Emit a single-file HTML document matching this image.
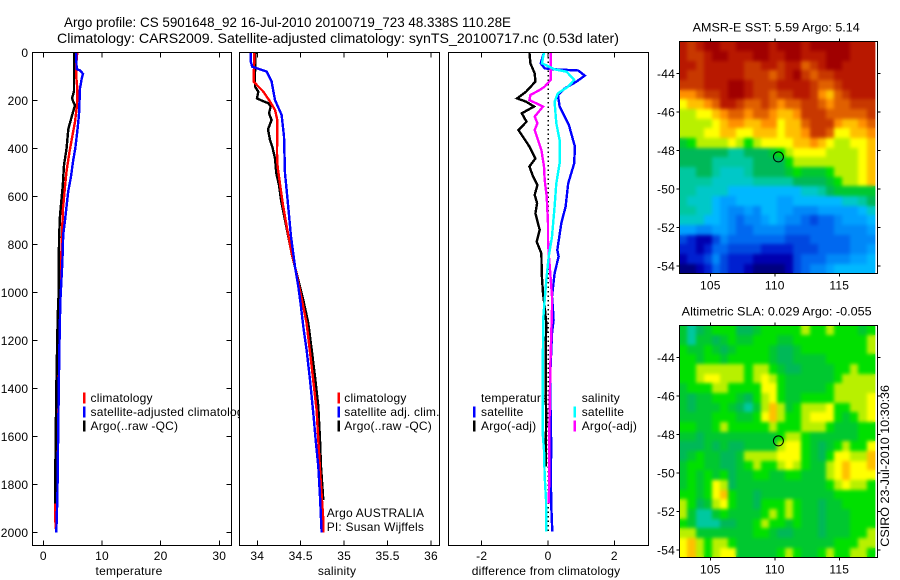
<!DOCTYPE html>
<html>
<head>
<meta charset="utf-8">
<style>
html,body{margin:0;padding:0;background:#fff;}
svg{display:block;}
text{font-family:"Liberation Sans",sans-serif;font-size:12px;fill:#000;letter-spacing:0.2px;}
</style>
</head>
<body>
<svg id="fig" width="900" height="580" viewBox="0 0 900 580" xmlns="http://www.w3.org/2000/svg">
<defs>
<filter id="soften" x="-5%" y="-5%" width="110%" height="110%" color-interpolation-filters="sRGB">
<feGaussianBlur in="SourceGraphic" stdDeviation="1.8" result="b"/>
<feMerge><feMergeNode in="SourceGraphic"/><feMergeNode in="b"/></feMerge>
</filter>
<clipPath id="clip-m1"><rect x="680" y="42" width="196" height="231"/></clipPath>
<clipPath id="clip-m2"><rect x="680" y="326" width="196" height="231"/></clipPath>
</defs>
<rect x="0" y="0" width="900" height="580" fill="#fff"/>
<text x="64" y="27" style="font-size:14px;letter-spacing:0" textLength="447" lengthAdjust="spacingAndGlyphs">Argo profile: CS 5901648_92 16-Jul-2010 20100719_723 48.338S 110.28E</text>
<text x="57" y="43" style="font-size:14px;letter-spacing:0" textLength="562" lengthAdjust="spacingAndGlyphs">Climatology: CARS2009. Satellite-adjusted climatology: synTS_20100717.nc (0.53d later)</text>
<g id="p1"></g>
<g id="p2"></g>
<g id="p3"></g>
<g id="m1"></g>
<g id="m2"></g>
<text x="692.7" y="31.5" style="letter-spacing:0" textLength="167" lengthAdjust="spacingAndGlyphs">AMSR-E SST: 5.59 Argo: 5.14</text>
<text x="681.7" y="315.5" style="letter-spacing:0" textLength="190" lengthAdjust="spacingAndGlyphs">Altimetric SLA: 0.029 Argo: -0.055</text>
<text transform="translate(889,546.7) rotate(-90)" style="letter-spacing:0" textLength="161.7" lengthAdjust="spacingAndGlyphs">CSIRO 23-Jul-2010 10:30:36</text>
</svg>
<script>
// ---- Profile data: [depth, value] ----
const depthTicks = [0,200,400,600,800,1000,1200,1400,1600,1800,2000];
const tempTicks = [0,10,20,30];
const salTicks = [34,34.5,35,35.5,36];
const diffTicks = [-2,0,2];
const lonTicks = [105,110,115];
const latTicks = [-44,-46,-48,-50,-52,-54];

const tempArgo = [[0,5.23],[160,5.23],[175,5.1],[190,4.89],[205,5.1],[220,5.4],[270,4.83],[320,4.26],[400,3.98],[470,3.53],[560,3.3],[620,3.07],[680,2.84],[780,2.67],[1000,2.62],[1100,2.45],[1400,2.22],[1750,2.05],[1880,2.05]];
const tempClim = [[0,5.8],[50,5.6],[100,5.6],[150,5.8],[220,5.75],[290,5.4],[350,4.95],[420,4.44],[500,3.93],[560,3.7],[650,3.36],[750,3.2],[920,2.96],[1000,2.73],[1400,2.4],[1880,2.05],[1950,2.05],[2000,2.2]];
const tempSat = [[0,5.57],[70,5.7],[75,6.26],[90,6.76],[110,6.54],[150,6.26],[250,6.1],[290,5.96],[340,5.75],[400,5.46],[450,5.1],[520,4.7],[580,4.25],[640,3.98],[700,3.7],[760,3.4],[870,3.25],[960,3.07],[1040,2.9],[1250,2.73],[1550,2.56],[1850,2.4],[2000,2.22]];

const salArgo = [[0,33.981],[88,33.974],[143,33.974],[164,34.012],[192,33.997],[201,34.05],[212,34.127],[226,34.154],[254,34.135],[282,34.165],[321,34.123],[365,34.146],[400,34.177],[442,34.204],[504,34.219],[553,34.25],[615,34.273],[699,34.319],[768,34.357],[837,34.395],[921,34.453],[990,34.5],[1032,34.53],[1129,34.587],[1240,34.626],[1351,34.664],[1476,34.702],[1615,34.722],[1726,34.733],[1865,34.76]];
const salClim = [[0,33.966],[122,33.958],[136,33.993],[164,34.07],[205,34.146],[240,34.204],[282,34.23],[420,34.227],[476,34.234],[546,34.26],[629,34.292],[726,34.338],[824,34.388],[893,34.434],[1060,34.53],[1129,34.568],[1310,34.626],[1490,34.683],[1740,34.722],[1948,34.76],[2000,34.76]];
const salSat = [[0,33.924],[39,33.924],[60,33.943],[71,34.03],[80,34.108],[122,34.165],[199,34.204],[261,34.28],[351,34.307],[504,34.319],[615,34.349],[768,34.388],[893,34.434],[976,34.472],[1050,34.5],[1143,34.53],[1240,34.568],[1365,34.607],[1504,34.645],[1629,34.676],[1726,34.702],[1851,34.722],[2000,34.74]];

const diffTempSat = [[0,-0.12],[46,-0.22],[67,-0.1],[71,0.2],[76,0.91],[97,1.11],[122,0.86],[150,0.51],[178,0.3],[226,0.35],[303,0.63],[393,0.81],[463,0.79],[546,0.61],[643,0.53],[712,0.4],[824,0.28],[851,0.32],[921,0.2],[1018,0.12],[1074,0.15],[1115,0.17],[1171,0.12],[1240,0.1],[1365,0.06],[1657,0.1],[1740,0.08],[1893,0.1],[1997,0.13]];
const diffTempArgo = [[0,-0.56],[46,-0.53],[88,-0.4],[122,-0.38],[164,-0.66],[192,-0.93],[206,-0.66],[226,-0.42],[254,-0.79],[289,-0.65],[324,-0.89],[351,-0.76],[393,-0.56],[442,-0.38],[476,-0.56],[518,-0.45],[553,-0.32],[594,-0.4],[629,-0.33],[671,-0.38],[740,-0.25],[789,-0.34],[838,-0.2],[921,-0.19],[1004,-0.15],[1060,-0.1],[1088,-0.08],[1129,-0.05],[1226,-0.07],[1435,-0.07],[1518,-0.05],[1629,-0.07],[1726,-0.06]];
const diffSalSat = [[0,-0.12],[46,-0.18],[71,0.2],[81,0.56],[115,0.79],[143,0.61],[171,0.3],[206,0.2],[296,0.25],[365,0.35],[463,0.35],[546,0.25],[643,0.2],[768,0.12],[851,0.02],[949,-0.05],[1067,-0.12],[1101,-0.14],[1310,-0.16],[1588,-0.16],[1657,-0.12],[1768,-0.1],[1865,-0.06],[1997,-0.05]];
const diffSalArgo = [[0,0.08],[115,0.08],[143,-0.1],[157,-0.25],[178,-0.53],[199,-0.56],[226,-0.15],[268,-0.4],[296,-0.32],[324,-0.4],[407,-0.2],[476,-0.12],[532,-0.1],[601,-0.04],[712,0],[782,0],[838,0.02],[921,0.07],[1018,0.12],[1067,0.12],[1171,0.1],[1310,0.07],[1588,0.04],[1768,0.04],[1879,0.02]];
const zeroLine = [[0,0],[2000,0]];

// ---- Map data: colour level 0..20, rows north to south ----
const sstGrid = [
[19,18,19,20,20,19,19,20,20,20,20,19,20,20,20,19,20,20,20,20,20,19,19,19],
[19,18,18,19,20,20,19,19,19,20,20,19,19,20,20,19,19,19,20,20,20,19,19,19],
[19,19,18,19,19,19,19,19,18,18,19,19,18,19,19,17,18,19,20,20,19,19,19,19],
[19,18,18,19,19,19,19,19,18,18,18,17,18,19,20,18,17,18,18,19,19,19,19,19],
[18,18,18,19,19,19,20,20,19,18,18,18,19,19,19,19,18,17,17,18,19,19,19,19],
[16,16,17,18,18,19,20,20,19,18,18,17,18,18,19,19,18,16,15,17,18,19,19,19],
[14,15,15,16,17,19,19,18,17,17,18,17,16,17,17,18,18,17,16,17,17,18,18,18],
[13,13,14,14,15,16,17,17,16,17,17,16,15,15,16,18,18,18,17,17,17,17,17,18],
[13,13,13,13,14,15,16,16,15,15,16,16,14,15,15,17,18,18,18,16,15,15,16,17],
[13,13,13,14,14,15,15,14,14,15,15,15,14,15,15,16,18,18,17,14,14,15,15,16],
[11,12,13,13,13,13,14,13,12,13,14,14,14,14,15,15,16,15,14,13,13,14,14,15],
[10,10,10,10,10,10,9,9,10,10,10,11,12,13,14,14,14,14,13,13,13,13,14,15],
[10,10,10,10,9,9,9,9,9,10,10,10,10,12,13,13,13,13,13,13,13,13,14,15],
[9,9,10,10,9,8,8,8,9,10,10,10,10,11,12,11,11,11,12,13,13,13,14,15],
[9,9,9,9,8,8,8,8,8,9,9,9,9,9,10,10,10,10,11,12,13,13,14,15],
[9,9,8,8,8,8,7,7,7,7,7,7,7,7,7,8,8,9,10,11,11,11,11,11],
[9,8,8,8,7,6,6,7,7,7,7,7,6,6,7,7,7,7,7,7,8,8,9,10],
[9,9,8,8,7,6,5,5,6,5,7,7,6,6,5,5,5,6,6,6,6,6,7,8],
[8,8,8,7,7,6,5,4,5,5,6,7,6,5,5,4,3,4,4,5,6,6,6,7],
[6,6,5,5,6,6,5,4,4,5,5,5,5,4,4,4,4,4,4,5,5,5,5,6],
[3,2,1,1,3,5,4,4,4,4,4,4,4,3,3,3,4,4,4,4,4,5,5,5],
[2,2,1,2,4,4,3,3,3,3,2,2,2,2,3,3,3,4,4,4,4,5,5,6],
[1,2,2,3,5,3,2,2,2,1,1,1,1,1,3,4,4,4,5,5,5,6,6,7],
[0,0,1,2,4,3,2,2,1,0,0,0,0,1,3,4,5,5,6,7,7,7,7,7]
];
const slaGrid = [
[11,9,10,11,12,12,12,10,10,11,12,12,12,12,12,13,12,12,13,12,12,12,11,12],
[11,9,11,11,10,11,12,11,11,12,12,12,11,11,12,12,12,12,12,12,12,12,12,13],
[12,11,11,12,11,10,11,12,12,12,12,11,10,10,11,12,12,12,12,12,12,12,12,13],
[12,12,11,12,12,11,12,12,12,12,12,11,10,10,11,11,11,11,12,12,12,12,12,12],
[12,12,13,13,13,13,13,13,12,13,13,12,11,10,10,11,11,11,11,12,12,13,12,12],
[12,12,13,14,14,13,13,13,12,13,14,13,12,11,11,11,11,11,11,12,13,13,13,13],
[11,12,12,12,13,13,12,12,12,12,14,14,12,11,11,11,11,11,12,13,13,13,13,13],
[11,10,11,11,12,12,12,11,10,12,13,14,12,11,11,12,12,12,12,13,13,13,13,14],
[11,10,11,11,11,12,11,10,9,11,13,15,13,11,12,13,13,13,14,12,12,13,13,14],
[11,11,11,11,12,12,12,11,11,12,14,15,13,12,12,13,14,14,14,12,11,12,13,14],
[12,12,11,11,12,13,12,12,12,12,12,13,12,12,12,13,13,13,12,11,11,11,12,12],
[11,11,10,11,11,11,11,11,11,11,11,11,12,13,13,12,11,11,11,11,11,11,12,12],
[10,10,10,11,10,11,10,10,11,11,11,11,13,14,14,12,11,10,11,12,13,12,12,14],
[10,11,12,11,11,10,10,11,13,13,13,13,14,14,14,12,11,10,12,14,14,13,13,15],
[11,12,12,11,11,10,10,11,12,13,12,12,13,14,13,12,11,11,13,14,15,14,14,15],
[11,12,11,12,11,12,10,11,11,12,12,11,11,12,12,11,11,11,13,14,15,14,14,14],
[11,12,11,12,14,13,10,11,11,11,11,11,11,11,11,11,11,11,12,13,14,13,13,12],
[12,12,11,12,14,15,12,11,11,10,11,11,11,11,11,11,11,11,11,12,12,12,12,12],
[13,12,10,11,13,14,12,11,11,10,12,12,12,13,12,11,11,10,11,11,12,12,12,12],
[13,11,9,9,11,12,11,11,11,11,12,13,12,13,12,11,11,10,11,11,11,12,12,12],
[12,11,9,9,9,10,10,11,11,12,13,12,12,11,12,11,11,10,11,11,11,12,12,12],
[13,13,11,11,11,11,11,11,11,12,12,11,10,10,11,11,11,10,11,11,11,12,12,13],
[14,15,13,12,13,13,12,11,11,11,11,11,11,11,11,11,11,11,11,12,12,12,13,13],
[14,15,13,12,13,14,14,11,11,11,11,11,12,13,12,11,11,12,13,12,12,13,13,12]
];
const profileLon = 110.28;
const profileLat = -48.338;
const colourLevels = ["#000080","#0000b0","#0020d0","#0048e0","#0068f0","#0088f8","#00a0ff","#00b8ff","#00c8c8","#00c8a0","#00b858","#00c830","#00e000","#b8f000","#ffff00","#ffc000","#ff9000","#e06000","#c83800","#b81800","#a00000"];

const NS = "http://www.w3.org/2000/svg";
function mk(parent, tag, attrs, txt) {
  const e = document.createElementNS(NS, tag);
  for (const k in attrs) e.setAttribute(k, attrs[k]);
  if (txt !== undefined) e.textContent = txt;
  parent.appendChild(e);
  return e;
}
function linear(d0, d1, r0, r1) { return v => r0 + (v - d0) * (r1 - r0) / (d1 - d0); }

const yDepth = linear(0, 2000, 52.3, 532.3);
const TOP = 52.3, BOTTOM = 545.3;

function drawLine(g, data, xs, colour, name, dash) {
  const pts = data.map(d => xs(d[1]).toFixed(1) + "," + yDepth(d[0]).toFixed(1)).join(" ");
  const a = { points: pts, fill: "none", stroke: colour, "stroke-width": dash ? 1.5 : 2.4, "shape-rendering": "crispEdges", "stroke-linejoin": "miter" };
  if (dash) a["stroke-dasharray"] = "1.5 3";
  const el = mk(g, "polyline", a);
  
  
}
function drawBox(g, l, r, t, b, name) {
  const el = mk(g, "rect", { x: l, y: t, width: r - l, height: b - t, fill: "none", stroke: "#000", "stroke-width": 1, "shape-rendering": "crispEdges" });
  
  
}
function tick(g, x1, y1, x2, y2) {
  const el = mk(g, "line", { x1: x1, y1: y1, x2: x2, y2: y2, stroke: "#000", "stroke-width": 1, "shape-rendering": "crispEdges" });
  
  
}
function label(g, x, y, s, anchor, name) {
  const el = mk(g, "text", { x: x, y: y, "text-anchor": anchor || "start" }, s);
  
  
  return el;
}
function marker(g, x, row, colour) {
  const y = 392.7 + row * 14;
  const el = mk(g, "rect", { x: x, y: y, width: 2.4, height: 11, fill: colour, "shape-rendering": "crispEdges" });
  
  
}
function panel(id, l, r, xs, ticks, fmt, xlabel, xlabelX, yTicks) {
  const g = document.getElementById(id);
  const bg = mk(g, "rect", { x: l, y: TOP, width: r - l, height: BOTTOM - TOP, fill: "#fff" });
  
  
  ticks.forEach(t => {
    const x = xs(t);
    tick(g, x, BOTTOM, x, BOTTOM - 5);
    tick(g, x, TOP, x, TOP + 5);
    label(g, x, 560, fmt(t), "middle", "x-tick-label");
  });
  if (yTicks) {
    depthTicks.forEach(d => {
      const y = yDepth(d);
      tick(g, l, y, l + 5, y);
      tick(g, r, y, r - 5, y);
      label(g, l - 4, y + 4.5, String(d), "end", "y-tick-label");
    });
  }
  label(g, xlabelX, 575, xlabel, "middle", "x-axis-title");
  return g;
}

// Temperature
const xT = linear(0, 30, 43.3, 219.3);
const g1 = panel("p1", 32.3, 231.3, xT, tempTicks, String, "temperature", 129, true);
drawLine(g1, tempClim, xT, "#f00", "temperature-climatology-line");
drawLine(g1, tempArgo, xT, "#000", "temperature-argo-line");
drawLine(g1, tempSat, xT, "#00f", "temperature-satellite-line");
marker(g1, 83, 0, "#f00"); marker(g1, 83, 1, "#00f"); marker(g1, 83, 2, "#000");
label(g1, 90.5, 402, "climatology", "start", "legend-climatology");
label(g1, 90.5, 416, "satellite-adjusted climatology", "start", "legend-satellite-adjusted");
label(g1, 90.5, 430, "Argo(..raw -QC)", "start", "legend-argo");

// Salinity
const xS = linear(34, 36, 257.3, 431);
const g2 = panel("p2", 239.3, 439.3, xS, salTicks, String, "salinity", 337, false);
drawLine(g2, salArgo, xS, "#000", "salinity-argo-line");
drawLine(g2, salClim, xS, "#f00", "salinity-climatology-line");
drawLine(g2, salSat, xS, "#00f", "salinity-satellite-line");
marker(g2, 337.5, 0, "#f00"); marker(g2, 337.5, 1, "#00f"); marker(g2, 337.5, 2, "#000");
label(g2, 344.3, 402, "climatology", "start", "legend-climatology");
label(g2, 344.3, 416, "satellite adj. clim.", "start", "legend-satellite-adj");
label(g2, 344.3, 430, "Argo(..raw -QC)", "start", "legend-argo");
label(g2, 326.7, 517, "Argo AUSTRALIA", "start", "float-country-note");
label(g2, 326.7, 531, "PI: Susan Wijffels", "start", "principal-investigator-note");

// Difference
const xD = linear(-2, 2, 481.7, 614.3);
const g3 = panel("p3", 448.3, 648.3, xD, diffTicks, String, "difference from climatology", 546, false);
drawLine(g3, zeroLine, xD, "#000", "zero-reference-line", true);
drawLine(g3, diffTempSat, xD, "#00f", "difference-temperature-satellite-line");
drawLine(g3, diffTempArgo, xD, "#000", "difference-temperature-argo-line");
drawLine(g3, diffSalArgo, xD, "#f0f", "difference-salinity-argo-line");
label(g3, 481, 402, "temperature", "start", "legend-temperature-heading");
drawLine(g3, diffSalSat, xD, "#0ff", "difference-salinity-satellite-line");
marker(g3, 473, 1, "#00f"); marker(g3, 473, 2, "#000");
marker(g3, 573.5, 1, "#0ff"); marker(g3, 573.5, 2, "#f0f");
label(g3, 481, 416, "satellite", "start", "legend-temperature-satellite");
label(g3, 481, 430, "Argo(-adj)", "start", "legend-temperature-argo");
label(g3, 581.7, 402, "salinity", "start", "legend-salinity-heading");
label(g3, 581.7, 416, "satellite", "start", "legend-salinity-satellite");
label(g3, 581.7, 430, "Argo(-adj)", "start", "legend-salinity-argo");

[g1, g2, g3].forEach((g, i) => {
  const b = [[32.3, 231.3], [239.3, 439.3], [448.3, 648.3]][i];
  drawBox(g, b[0], b[1], TOP, BOTTOM, "plot-frame");
});

// Maps
const xLon = linear(105, 115, 710.3, 839.3);
const LON0 = 102.6, LON1 = 117.75, LAT_TOP = -42.34, LAT_BOT = -54.38;
function drawMap(id, grid, topPx, name) {
  const g = document.getElementById(id);
  const yLat = linear(-44, -54, topPx + 32, topPx + 224.7);
  const clip = mk(g, "g", { "clip-path": "url(#clip-" + id + ")" });
  
  
  const cells = mk(clip, "g", { filter: "url(#soften)" });
  
  
  const nr = grid.length;
  grid.forEach((row, j) => {
    const nc = row.length;
    const y0 = Math.round(yLat(LAT_TOP + (LAT_BOT - LAT_TOP) * j / nr));
    const y1 = Math.round(yLat(LAT_TOP + (LAT_BOT - LAT_TOP) * (j + 1) / nr));
    row.forEach((v, i) => {
      const x0 = Math.round(xLon(LON0 + (LON1 - LON0) * i / nc));
      const x1 = Math.round(xLon(LON0 + (LON1 - LON0) * (i + 1) / nc));
      const idx = Math.max(0, Math.min(colourLevels.length - 1, Math.round(v)));
      const cell = mk(cells, "rect", { x: x0, y: y0, width: x1 - x0, height: y1 - y0, fill: colourLevels[idx], "shape-rendering": "crispEdges" });
      
      
    });
  });
  const l = 679.3, r = 877.3, t = topPx, b = topPx + 232;
  drawBox(g, l, r, t, b, name + "-frame");
  lonTicks.forEach(v => {
    const x = xLon(v);
    tick(g, x, t, x, t - 3);
    tick(g, x, b, x, b + 3);
    label(g, x, b + 16, String(v), "middle", "longitude-tick-label");
  });
  latTicks.forEach(v => {
    const y = yLat(v);
    tick(g, l, y, l - 3, y);
    tick(g, r, y, r + 3, y);
    label(g, 675, y + 4.5, String(v), "end", "latitude-tick-label");
  });
  const c = mk(g, "circle", { cx: xLon(profileLon), cy: yLat(profileLat), r: 5, fill: "none", stroke: "#000", "stroke-width": 1 });
  
  
}
drawMap("m1", sstGrid, 41.3, "sst-map");
drawMap("m2", slaGrid, 325.3, "sla-map");
</script>
</body>
</html>
